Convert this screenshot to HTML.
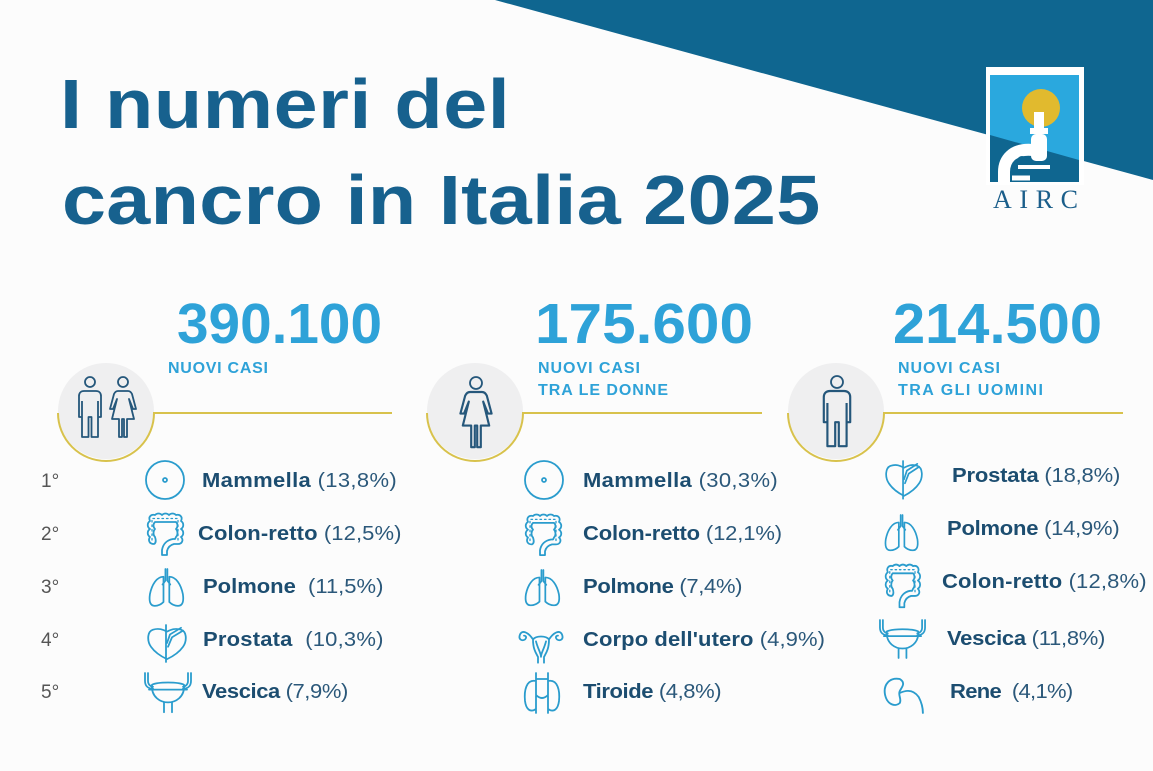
<!DOCTYPE html>
<html><head><meta charset="utf-8"><style>
html,body{margin:0;padding:0;background:#fcfcfc;}
svg{display:block;}
text{white-space:pre;}
.t{font-family:"Liberation Sans",sans-serif;font-weight:bold;fill:#17618e;font-size:70px;}
.n{font-family:"Liberation Sans",sans-serif;font-weight:bold;fill:#2ea2d8;font-size:57px;}
.s{font-family:"Liberation Sans",sans-serif;font-weight:bold;fill:#2ea2d8;font-size:16px;}
.l{font-family:"Liberation Sans",sans-serif;font-size:20px;fill:#2b587a;}
.l .b{font-weight:bold;fill:#1c4d70;}
.r{font-family:"Liberation Sans",sans-serif;font-size:19px;fill:#555;}
.ic{fill:none;stroke:#2a9ccd;stroke-width:1.8;stroke-linejoin:round;stroke-linecap:round;}
.pp{fill:none;stroke:#25577b;stroke-width:1.8;stroke-linejoin:round;}
</style></head><body>
<svg width="1153" height="771" viewBox="0 0 1153 771" xmlns="http://www.w3.org/2000/svg">
<defs>
<g id="colon"><path d="M9 31 C4 31 3 27 5 24 C2 22 2 18 5 16 C2 14 2 10 5 8 C3 4 6 1 10 2 C12 0 15 0 17 2 C19 0 22 0 24 2 C26 0 29 0 31 2 C35 1 38 4 36 8 C39 10 39 14 36 16 C39 18 39 22 36 24 C39 27 37 31 33 31 L29 31 C25 32 23 34 22 38 L22 42 L17 42 L17 37 C18 31 22 27 28 26 L30 26 L31 24 C33 22 33 18 31 16 C33 14 33 11 31 9 L10 9 C8 11 8 14 10 16 C8 18 8 22 10 24 C11 27 11 30 9 31 Z"/><path d="M7 27 V5.5 H33 V27" stroke-dasharray="1.5 3" stroke-width="1.3"/></g>
<g id="lung"><path d="M17 8 C10 8 5 16 3 26 C2 33 3 38 8 38 C12 38 15 36 17 34 Z"/><path d="M23 8 C30 8 35 16 37 26 C38 33 37 38 32 38 C28 38 25 36 23 34 Z"/><path d="M19 0 V12 L16 16 M21 0 V12 L24 16"/></g>
<g id="prost"><path d="M6 6 C0 8 0 18 4 24 C8 30 14 34 20 37 C26 34 32 30 36 24 C40 18 40 8 34 6 C28 4 24 6 20 8 C16 6 12 4 6 6 Z"/><path d="M19 1 V40 M20 20 L23 11 L34 4 M21 24 L25 14 L36 7"/></g>
<g id="blad"><path d="M2 0 V8 C2 14 6 16 10 16 M5 0 V8 C5 12 8 14 10 14 M48 0 V8 C48 14 44 16 40 16 M45 0 V8 C45 12 42 14 40 14"/><path d="M9 12 C8 25 18 30 25 30 C32 30 42 25 41 12 C35 9 15 9 9 12 Z"/><path d="M6 17 H44 M21 30 V40 M29 30 V40"/></g>
<g id="uter"><path d="M15 18 C15 28 18 32 20 36 V42 M26 42 V36 C28 32 31 28 31 18 M15 18 C18 14 28 14 31 18 M15 18 C10 10 4 8 2 13 C0 18 4 20 7 18 C9 16 8 14 6 14 M31 18 C36 10 42 8 44 13 C46 18 42 20 39 18 C37 16 38 14 40 14 M18 20 C20 28 23 32 23 36 C23 32 26 28 28 20"/></g>
<g id="thyr"><path d="M14 8 C4 6 2 18 3 28 C4 36 8 40 14 36 M26 8 C36 6 38 18 37 28 C36 36 32 40 26 36 M14 22 C18 26 22 26 26 22 M14 0 V40 M26 0 V40 M14 6 H26"/></g>
<g id="kid"><path d="M16 4 C6 2 0 10 2 20 C4 30 12 32 16 28 C18 24 14 20 16 16 C18 12 22 8 16 4 Z M16 18 C24 14 30 16 34 22 C36 26 38 32 38 38"/></g>
<path id="man" d="M-6 0 H6 C9 0 11 2 11 5 V26 H8 V10 M8 10 V46 H1.5 V26 H-1.5 V46 H-8 V10 M-8 10 V26 H-11 V5 C-11 2 -9 0 -6 0"/>
<path id="wom" d="M-5 0 H5 C7 0 8 1 9 3 L13 18 H10 L6 8 L11 28 H4 V46 H1 V28 H-1 V46 H-4 V28 H-11 L-6 8 L-10 18 H-13 L-9 3 C-8 1 -7 0 -5 0 Z"/>
</defs>

<rect width="1153" height="771" fill="#fcfcfc"/>
<polygon points="495,0 1153,0 1153,180" fill="#0f6690"/>

<!-- logo -->
<rect x="986" y="67" width="98" height="118" fill="#ffffff"/>
<rect x="990" y="75" width="89" height="107" fill="#2aa8de"/>
<polygon points="990,135 1079,160 1079,182 990,182" fill="#0f6690"/>
<circle cx="1041" cy="108" r="19" fill="#e1ba2e"/>
<rect x="1034" y="112" width="10" height="18" fill="#fff"/>
<rect x="1030" y="128" width="18" height="6" fill="#fff"/>
<rect x="1031" y="134" width="16" height="27" rx="5" fill="#fff"/>
<path d="M1033 150 C1012 148 1004 160 1004 172 L1004 182" stroke="#fff" stroke-width="12" fill="none"/>
<circle cx="1022" cy="161" r="5" fill="#0f6690"/>
<path d="M1018 167 H1050" stroke="#fff" stroke-width="4"/>
<path d="M1012 178 H1030" stroke="#fff" stroke-width="5"/>
<text x="993" y="208" font-family="Liberation Serif, serif" font-size="26" fill="#1b5e8a" textLength="85" lengthAdjust="spacing">AIRC</text>

<!-- title -->
<g transform="translate(60,128) scale(1.13,1)"><text class="t" x="0" y="0" textLength="398" lengthAdjust="spacing">I numeri del</text></g>
<g transform="translate(62,224) scale(1.13,1)"><text class="t" x="0" y="0" textLength="671" lengthAdjust="spacing">cancro in Italia 2025</text></g>

<!-- headers -->
<text class="n" x="177" y="343" textLength="205" lengthAdjust="spacingAndGlyphs">390.100</text>
<text class="s" x="168" y="373" textLength="100" lengthAdjust="spacing">NUOVI CASI</text>
<text class="n" x="535" y="343" textLength="218" lengthAdjust="spacingAndGlyphs">175.600</text>
<text class="s" x="538" y="373" textLength="102" lengthAdjust="spacing">NUOVI CASI</text>
<text class="s" x="538" y="395" textLength="130" lengthAdjust="spacing">TRA LE DONNE</text>
<text class="n" x="893" y="343" textLength="209" lengthAdjust="spacingAndGlyphs">214.500</text>
<text class="s" x="898" y="373" textLength="102" lengthAdjust="spacing">NUOVI CASI</text>
<text class="s" x="898" y="395" textLength="145" lengthAdjust="spacing">TRA GLI UOMINI</text>

<!-- circles -->
<g>
<circle cx="106" cy="411" r="48" fill="#efeff0"/>
<path d="M58 413 A48 48 0 0 0 154 413 H392" fill="none" stroke="#d8c24c" stroke-width="2"/>
<circle cx="475" cy="411" r="48" fill="#efeff0"/>
<path d="M427 413 A48 48 0 0 0 523 413 H762" fill="none" stroke="#d8c24c" stroke-width="2"/>
<circle cx="836" cy="411" r="48" fill="#efeff0"/>
<path d="M788 413 A48 48 0 0 0 884 413 H1123" fill="none" stroke="#d8c24c" stroke-width="2"/>
</g>
<!-- people -->
<g class="pp">
<circle cx="90" cy="382" r="5"/>
<use href="#man" transform="translate(90,391)"/>
<circle cx="123" cy="382" r="5"/>
<use href="#wom" transform="translate(123,391)"/>
<circle cx="476" cy="383" r="6"/>
<use href="#wom" transform="translate(476,392) scale(1.2)"/>
<circle cx="837" cy="382" r="6"/>
<use href="#man" transform="translate(837,391) scale(1.2)"/>
</g>

<!-- ranks -->
<text class="r" x="41" y="487">1°</text>
<text class="r" x="41" y="540">2°</text>
<text class="r" x="41" y="593">3°</text>
<text class="r" x="41" y="646">4°</text>
<text class="r" x="41" y="698">5°</text>

<!-- icons -->
<g class="ic">
<circle cx="165" cy="480" r="19"/><circle cx="165" cy="480" r="2"/>
<use href="#colon" transform="translate(145,513)"/>
<use href="#lung" transform="translate(147,569) scale(0.97)"/>
<use href="#prost" transform="translate(147,624) scale(1,0.95)"/>
<use href="#blad" transform="translate(143,673) scale(1,0.98)"/>
<circle cx="544" cy="480" r="19"/><circle cx="544" cy="480" r="2"/>
<use href="#colon" transform="translate(523,514) scale(1,0.98)"/>
<use href="#lung" transform="translate(523,570) scale(0.97,0.93)"/>
<use href="#uter" transform="translate(518,622) scale(1,0.97)"/>
<use href="#thyr" transform="translate(522,673)"/>
<use href="#prost" transform="translate(885,460) scale(0.95,0.97)"/>
<use href="#lung" transform="translate(883,515) scale(0.93)"/>
<use href="#colon" transform="translate(883,564) scale(0.97,1.03)"/>
<use href="#blad" transform="translate(878,620) scale(0.98,0.95)"/>
<use href="#kid" transform="translate(883,675) scale(1.05,1)"/>
</g>

<!-- list text left -->
<g transform="translate(202,487) scale(1.1,1)"><text class="l" textLength="177" lengthAdjust="spacing"><tspan class="b">Mammella</tspan> (13,8%)</text></g>
<g transform="translate(198,540) scale(1.1,1)"><text class="l" textLength="185" lengthAdjust="spacing"><tspan class="b">Colon-retto</tspan> (12,5%)</text></g>
<g transform="translate(203,593) scale(1.1,1)"><text class="l" textLength="164" lengthAdjust="spacing"><tspan class="b">Polmone</tspan>  (11,5%)</text></g>
<g transform="translate(203,646) scale(1.1,1)"><text class="l" textLength="164" lengthAdjust="spacing"><tspan class="b">Prostata</tspan>  (10,3%)</text></g>
<g transform="translate(202,698) scale(1.1,1)"><text class="l" textLength="133" lengthAdjust="spacing"><tspan class="b">Vescica</tspan> (7,9%)</text></g>
<!-- middle -->
<g transform="translate(583,487) scale(1.1,1)"><text class="l" textLength="177" lengthAdjust="spacing"><tspan class="b">Mammella</tspan> (30,3%)</text></g>
<g transform="translate(583,540) scale(1.1,1)"><text class="l" textLength="181" lengthAdjust="spacing"><tspan class="b">Colon-retto</tspan> (12,1%)</text></g>
<g transform="translate(583,593) scale(1.1,1)"><text class="l" textLength="145" lengthAdjust="spacing"><tspan class="b">Polmone</tspan> (7,4%)</text></g>
<g transform="translate(583,646) scale(1.1,1)"><text class="l" textLength="220" lengthAdjust="spacing"><tspan class="b">Corpo dell'utero</tspan> (4,9%)</text></g>
<g transform="translate(583,698) scale(1.1,1)"><text class="l" textLength="126" lengthAdjust="spacing"><tspan class="b">Tiroide</tspan> (4,8%)</text></g>
<!-- right -->
<g transform="translate(952,482) scale(1.1,1)"><text class="l" textLength="153" lengthAdjust="spacing"><tspan class="b">Prostata</tspan> (18,8%)</text></g>
<g transform="translate(947,535) scale(1.1,1)"><text class="l" textLength="157" lengthAdjust="spacing"><tspan class="b">Polmone</tspan> (14,9%)</text></g>
<g transform="translate(942,588) scale(1.1,1)"><text class="l" textLength="186" lengthAdjust="spacing"><tspan class="b">Colon-retto</tspan> (12,8%)</text></g>
<g transform="translate(947,645) scale(1.1,1)"><text class="l" textLength="144" lengthAdjust="spacing"><tspan class="b">Vescica</tspan> (11,8%)</text></g>
<g transform="translate(950,698) scale(1.1,1)"><text class="l" textLength="112" lengthAdjust="spacing"><tspan class="b">Rene</tspan>  (4,1%)</text></g>
</svg>
</body></html>
